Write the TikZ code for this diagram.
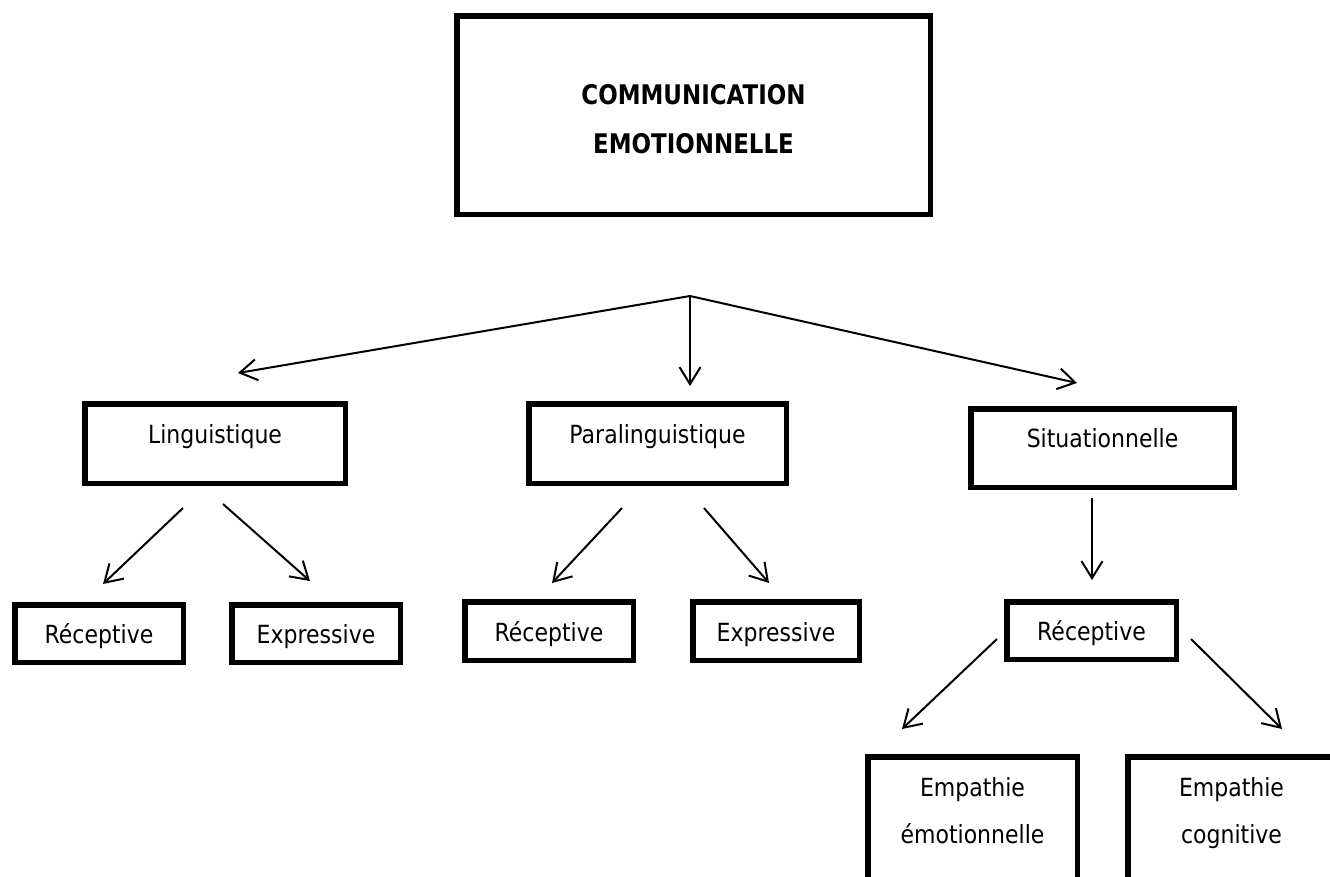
\documentclass[tikz,border=0pt]{standalone}
\usepackage{fontspec}
\setmainfont{DejaVu Sans}[FakeStretch=0.88]
\newfontfamily\titlefont{DejaVu Sans}[FakeStretch=0.85]
\usetikzlibrary{arrows.meta}
\begin{document}
\begin{tikzpicture}[x=1pt,y=-1pt,
  box/.style={draw, line width=5.5pt, inner sep=0pt, outer sep=0pt, anchor=base,
    font=\fontsize{25}{47}\selectfont},
  conn/.style={line width=2pt, -{Straight Barb[length=17pt,width=21pt]}}]
\useasboundingbox (0,0) rectangle (1330,876);
\clip (0,0) rectangle (1330,876);
% title
\node[box, minimum width=473.5pt, text height=88.25pt, text depth=110.25pt,
  font=\titlefont\bfseries\fontsize{27}{49}\selectfont] (title) at (693.5,104)
  {\begin{tabular}[t]{@{}c@{}}COMMUNICATION\\EMOTIONNELLE\end{tabular}};
% level 1
\node[box, minimum width=260.5pt, text height=39.25pt, text depth=40.25pt] (ling) at (215,443) {Linguistique};
\node[box, minimum width=257.5pt, text height=39.25pt, text depth=40.25pt] (para) at (657.5,443) {Paralinguistique};
\node[box, minimum width=263.5pt, text height=38.75pt, text depth=39.75pt] (situ) at (1102.5,447.5) {Situationnelle};
% level 2
\node[box, minimum width=168.5pt, text height=38.25pt, text depth=19.25pt] (recL) at (99,643) {Réceptive};
\node[box, minimum width=168.5pt, text height=38.25pt, text depth=19.25pt] (expL) at (316,643) {Expressive};
\node[box, minimum width=168.5pt, text height=39.25pt, text depth=19.25pt] (recP) at (549,641) {Réceptive};
\node[box, minimum width=166.5pt, text height=39.25pt, text depth=19.25pt] (expP) at (776,641) {Expressive};
\node[box, minimum width=169.5pt, text height=38.25pt, text depth=19.25pt] (recS) at (1091.5,640) {Réceptive};
% level 3
\node[box, minimum width=209.5pt, text height=39.25pt, text depth=130pt] (emo) at (972.5,796)
  {\begin{tabular}[t]{@{}c@{}}Empathie\\émotionnelle\end{tabular}};
\node[box, minimum width=207.5pt, text height=39.25pt, text depth=130pt] (cog) at (1231.5,796)
  {\begin{tabular}[t]{@{}c@{}}Empathie\\cognitive\end{tabular}};
% connector points
\coordinate (apex) at (690,296);
\coordinate (tL) at (238,373);
\coordinate (tM) at (690,386);
\coordinate (tR) at (1077,383);
\coordinate (l1s) at (183,508); \coordinate (l1e) at (103,584);
\coordinate (l2s) at (223,504); \coordinate (l2e) at (310,581);
\coordinate (p1s) at (622,508); \coordinate (p1e) at (552,583);
\coordinate (p2s) at (704,508); \coordinate (p2e) at (769,583);
\coordinate (s1s) at (1092,498); \coordinate (s1e) at (1092,580);
\coordinate (r1s) at (997,639); \coordinate (r1e) at (902,729);
\coordinate (r2s) at (1191,639); \coordinate (r2e) at (1282,729);
% connectors
\draw[conn] (apex) -- (tL);
\draw[conn] (apex) -- (tM);
\draw[conn] (apex) -- (tR);
\draw[conn] (l1s) -- (l1e);
\draw[conn] (l2s) -- (l2e);
\draw[conn] (p1s) -- (p1e);
\draw[conn] (p2s) -- (p2e);
\draw[conn] (s1s) -- (s1e);
\draw[conn] (r1s) -- (r1e);
\draw[conn] (r2s) -- (r2e);
\end{tikzpicture}
\end{document}
